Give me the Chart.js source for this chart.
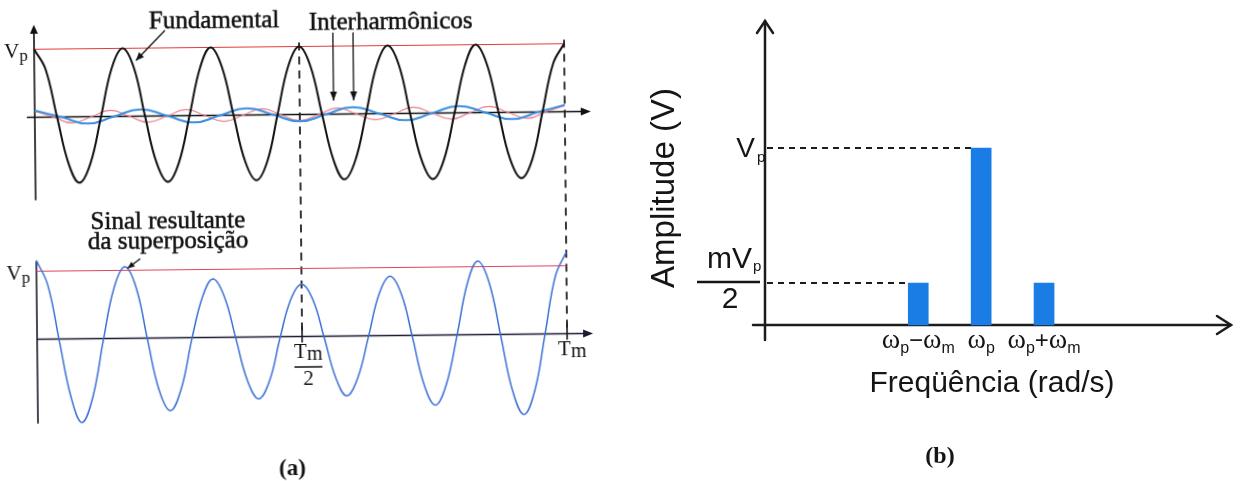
<!DOCTYPE html>
<html>
<head>
<meta charset="utf-8">
<script src="https://cdn.jsdelivr.net/npm/chart.js@4.4.1/dist/chart.umd.min.js"></script>
<style>
  html, body { margin: 0; padding: 0; background: #fff; }
  body { width: 1241px; height: 481px; position: relative; overflow: hidden; }
  #waves { position: absolute; left: 0; top: 0; transform-origin: 300px 230px; transform: rotate(-0.6deg); }
  #spectrum { position: absolute; left: 620px; top: 0; }
</style>
</head>
<body>
<canvas id="waves" width="610" height="481"></canvas>
<canvas id="spectrum" width="621" height="481"></canvas>
<script>
// (a) time as a fraction of Tm, amplitude in units of Vp
const waveT = [0, 0.021, 0.042, 0.063, 0.083, 0.104, 0.125, 0.146,
               0.167, 0.188, 0.208, 0.229, 0.25, 0.271, 0.292, 0.313,
               0.333, 0.354, 0.375, 0.396, 0.417, 0.438, 0.458, 0.479,
               0.5, 0.521, 0.542, 0.563, 0.583, 0.604, 0.625, 0.646,
               0.667, 0.688, 0.708, 0.729, 0.75, 0.771, 0.792, 0.813,
               0.833, 0.854, 0.875, 0.896, 0.917, 0.938, 0.958, 0.979, 1];

// fundamental
const fundV = [1, 0.71, 0, -0.69, -0.97, -0.69, 0, 0.71,
               1, 0.71, 0, -0.69, -0.97, -0.69, 0, 0.71,
               1, 0.71, 0, -0.68, -0.96, -0.68, 0, 0.71,
               1, 0.71, 0, -0.68, -0.96, -0.68, 0, 0.71,
               1, 0.71, 0, -0.69, -0.97, -0.69, 0, 0.71,
               1, 0.71, 0, -0.69, -0.97, -0.69, 0, 0.71, 1];

// interharmonic below the fundamental (blue)
const lowT = [0, 0.05, 0.1, 0.15, 0.2, 0.25, 0.3, 0.35, 0.4, 0.45, 0.5,
              0.55, 0.6, 0.65, 0.7, 0.75, 0.8, 0.85, 0.9, 0.95, 1];
const lowV = [0.1, 0, -0.1, 0, 0.1, 0, -0.1, 0, 0.1, 0, -0.1,
              0, 0.1, 0, -0.1, 0, 0.1, 0, -0.1, 0, 0.1];

// interharmonic above the fundamental (red)
const highT = [0, 0.036, 0.071, 0.107, 0.143, 0.179, 0.214, 0.25, 0.286, 0.321, 0.357, 0.393, 0.429, 0.464, 0.5,
               0.536, 0.571, 0.607, 0.643, 0.679, 0.714, 0.75, 0.786, 0.821, 0.857, 0.893, 0.929, 0.964, 1];
const highV = [0.09, 0, -0.09, 0, 0.09, 0, -0.09, 0, 0.09, 0, -0.09, 0, 0.09, 0, -0.09,
               0, 0.09, 0, -0.09, 0, 0.09, 0, -0.09, 0, 0.09, 0, -0.09, 0, 0.09];

// resulting signal
const sumV = [1.16, 0.8, -0.03, -0.86, -1.23, -0.86, -0.02, 0.74,
              1.05, 0.74, -0.01, -0.76, -1.07, -0.75, -0.02, 0.6,
              0.86, 0.6, -0.02, -0.64, -0.91, -0.64, -0.03, 0.54,
              0.77, 0.54, -0.03, -0.62, -0.88, -0.62, -0.02, 0.61,
              0.87, 0.61, -0.02, -0.72, -1.03, -0.73, -0.02, 0.76,
              1.08, 0.76, -0.03, -0.83, -1.18, -0.83, -0.02, 0.85, 1.2];

// Vp reference level
const vpT = [0, 1];
const vpV = [1, 1];

// (b) spectrum
const freqLabels = ['ω_p−ω_m', 'ω_p', 'ω_p+ω_m'];
const freqPos = [-1, 0, 1];
const amps = [0.237, 1, 0.237];

const SERIF = "'Liberation Serif', 'Times New Roman', serif";
const SANS = "'Liberation Sans', Arial, sans-serif";

const pts = (ts, vs) => ts.map((t, i) => ({ x: t, y: vs[i] }));

function arrowHead(ctx, x, y, angle, len, half, filled) {
  ctx.save();
  ctx.translate(x, y);
  ctx.rotate(angle);
  ctx.beginPath();
  if (filled) {
    ctx.moveTo(0, 0);
    ctx.lineTo(-len, -half);
    ctx.lineTo(-len, half);
    ctx.closePath();
    ctx.fill();
  } else {
    ctx.moveTo(-len, -half);
    ctx.lineTo(0, 0);
    ctx.lineTo(-len, half);
    ctx.stroke();
  }
  ctx.restore();
}

function arrow(ctx, x1, y1, x2, y2, len, half) {
  ctx.beginPath();
  ctx.moveTo(x1, y1);
  ctx.lineTo(x2, y2);
  ctx.stroke();
  arrowHead(ctx, x2, y2, Math.atan2(y2 - y1, x2 - x1), len, half, true);
}

// runs: [text, font, dy]
function drawRuns(ctx, runs, x, y, align) {
  let w = 0;
  runs.forEach(r => { ctx.font = r[1]; w += ctx.measureText(r[0]).width; });
  let cx = align === 'center' ? x - w / 2 : align === 'right' ? x - w : x;
  ctx.textAlign = 'left';
  runs.forEach(r => {
    ctx.font = r[1];
    ctx.fillText(r[0], cx, y + (r[2] || 0));
    cx += ctx.measureText(r[0]).width;
  });
}

// serif captions look heavier in print, so they get a hairline outline
function inkText(ctx, text, x, y) {
  ctx.fillText(text, x, y);
  ctx.lineWidth = 0.5;
  ctx.strokeText(text, x, y);
}

function vLine(ctx, x, y1, y2) {
  ctx.beginPath();
  ctx.moveTo(x, y1);
  ctx.lineTo(x, y2);
  ctx.stroke();
}

const wavesDecor = {
  id: 'wavesDecor',
  beforeDatasetsDraw(chart) {
    const { ctx } = chart;
    const { x, yTop, yBot } = chart.scales;
    const x0 = x.getPixelForValue(0);
    const xEnd = x.getPixelForValue(1.049);
    ctx.save();
    ctx.strokeStyle = '#111';
    ctx.fillStyle = '#111';
    ctx.lineWidth = 1.6;

    // upper plot axes
    vLine(ctx, x0, yTop.getPixelForValue(-1.22), yTop.getPixelForValue(1.3));
    arrowHead(ctx, x0, yTop.getPixelForValue(1.36), -Math.PI / 2, 9, 4, true);
    const yt0 = yTop.getPixelForValue(0);
    ctx.beginPath();
    ctx.moveTo(x.getPixelForValue(-0.015), yt0);
    ctx.lineTo(xEnd - 4, yt0);
    ctx.stroke();
    arrowHead(ctx, xEnd, yt0, 0, 10, 4, true);

    // lower plot axes
    ctx.strokeStyle = '#1a1a30';
    ctx.fillStyle = '#1a1a30';
    vLine(ctx, x0, yBot.getPixelForValue(1.15), yBot.getPixelForValue(-1.24));
    const yb0 = yBot.getPixelForValue(0);
    ctx.beginPath();
    ctx.moveTo(x0, yb0);
    ctx.lineTo(xEnd - 4, yb0);
    ctx.stroke();
    arrowHead(ctx, xEnd, yb0, 0, 10, 4, true);
    [0.5, 1].forEach(t => vLine(ctx, x.getPixelForValue(t), yb0 - 10, yb0 + 6));

    // dashed markers at Tm/2 and Tm
    ctx.strokeStyle = '#222';
    ctx.lineWidth = 1.8;
    ctx.setLineDash([8, 6]);
    [0.5, 1].forEach(t => vLine(ctx, x.getPixelForValue(t), yTop.getPixelForValue(1.06), yb0));
    ctx.restore();
  },
  afterDraw(chart) {
    const { ctx } = chart;
    const { x, yTop, yBot } = chart.scales;
    ctx.save();
    ctx.fillStyle = '#111';
    ctx.strokeStyle = '#111';
    ctx.textBaseline = 'alphabetic';

    // Vp labels
    [yTop, yBot].forEach(s => {
      drawRuns(ctx, [['V', '21px ' + SERIF, 0], ['p', '17px ' + SERIF, 3]], 6, s.getPixelForValue(1) + 8, 'left');
    });

    // titles of the traces
    ctx.font = '25px ' + SERIF;
    ctx.textAlign = 'left';
    inkText(ctx, 'Fundamental', 151, 27);
    inkText(ctx, 'Interharmônicos', 311, 30);
    ctx.textAlign = 'center';
    inkText(ctx, 'Sinal resultante', 168, 227);
    inkText(ctx, 'da superposição', 168, 247);

    ctx.lineWidth = 1.3;
    arrow(ctx, 167, 29, x.getPixelForValue(0.192), yTop.getPixelForValue(0.82), 8, 3.5);
    arrow(ctx, x.getPixelForValue(0.564), 33, x.getPixelForValue(0.564), yTop.getPixelForValue(0.2), 9, 3.5);
    arrow(ctx, x.getPixelForValue(0.602), 33, x.getPixelForValue(0.602), yTop.getPixelForValue(0.2), 9, 3.5);
    arrow(ctx, 140, 257, x.getPixelForValue(0.172), yBot.getPixelForValue(1.03), 7, 3);

    // time labels
    const xh = x.getPixelForValue(0.5) + 6;
    drawRuns(ctx, [['T', '21px ' + SERIF, 0], ['m', '20px ' + SERIF, 2]], xh, 358, 'center');
    ctx.lineWidth = 1.5;
    ctx.beginPath();
    ctx.moveTo(xh - 14, 367);
    ctx.lineTo(xh + 14, 367);
    ctx.stroke();
    ctx.font = '21px ' + SERIF;
    ctx.textAlign = 'center';
    ctx.fillText('2', xh, 385);
    drawRuns(ctx, [['T', '21px ' + SERIF, 0], ['m', '20px ' + SERIF, 2]], x.getPixelForValue(1) + 5, 358, 'center');

    ctx.font = 'bold 23px ' + SERIF;
    ctx.textAlign = 'center';
    ctx.fillText('(a)', 290, 475);
    ctx.restore();
  }
};

new Chart(document.getElementById('waves'), {
  type: 'line',
  data: {
    datasets: [
      { data: pts(waveT, fundV), yAxisID: 'yTop', borderColor: '#111', borderWidth: 2 },
      { data: pts(lowT, lowV), yAxisID: 'yTop', borderColor: '#3d8fe0', borderWidth: 2, tension: 0.5 },
      { data: pts(highT, highV), yAxisID: 'yTop', borderColor: '#ec7f8f', borderWidth: 1.2, tension: 0.5 },
      { data: pts(vpT, vpV), yAxisID: 'yTop', borderColor: '#e23a3a', borderWidth: 1, tension: 0 },
      { data: pts(waveT, sumV), yAxisID: 'yBot', borderColor: '#3a6fd6', borderWidth: 1.5 },
      { data: pts(vpT, vpV), yAxisID: 'yBot', borderColor: '#e5405e', borderWidth: 1, tension: 0 }
    ]
  },
  options: {
    responsive: false,
    animation: false,
    layout: { padding: 0 },
    elements: { point: { radius: 0 }, line: { tension: 0.4 } },
    plugins: { legend: { display: false }, tooltip: { enabled: false } },
    scales: {
      x: { type: 'linear', min: -0.0679, max: 1.083, display: false },
      yTop: { type: 'linear', min: -5.39, max: 1.684, display: false },
      yBot: { type: 'linear', min: -2.125, max: 4.949, display: false }
    }
  },
  plugins: [wavesDecor]
});

const specDecor = {
  id: 'specDecor',
  beforeDatasetsDraw(chart) {
    const { ctx } = chart;
    const fx = chart.scales.x, fy = chart.scales.y;
    const axisX = 145;
    const y0 = fy.getPixelForValue(0);
    ctx.save();
    ctx.strokeStyle = '#1c1c1c';
    ctx.lineWidth = 2.5;
    ctx.lineCap = 'round';
    vLine(ctx, axisX, 340, 21);
    arrowHead(ctx, axisX, 21, -Math.PI / 2, 12, 8, false);
    ctx.beginPath();
    ctx.moveTo(133, y0);
    ctx.lineTo(611, y0);
    ctx.stroke();
    arrowHead(ctx, 611, y0, 0, 14, 9, false);

    // dashed guides from the axis to the first bar of each level
    ctx.lineCap = 'butt';
    ctx.lineWidth = 2;
    ctx.setLineDash([6, 5]);
    const seen = [];
    amps.forEach((a, i) => {
      if (seen.includes(a)) return;
      seen.push(a);
      const yy = fy.getPixelForValue(a);
      ctx.beginPath();
      ctx.moveTo(axisX + 2, yy);
      ctx.lineTo(fx.getPixelForValue(freqPos[i]) - 10, yy);
      ctx.stroke();
    });
    ctx.restore();
  },
  afterDraw(chart) {
    const { ctx } = chart;
    const fx = chart.scales.x, fy = chart.scales.y;
    ctx.save();
    ctx.fillStyle = '#151515';
    ctx.strokeStyle = '#151515';
    ctx.textBaseline = 'alphabetic';

    // level labels
    const yVp = fy.getPixelForValue(1);
    drawRuns(ctx, [['V', '28px ' + SANS, 0]], 135, yVp + 9, 'right');
    drawRuns(ctx, [['p', '15px ' + SANS, 0]], 137, yVp + 14, 'left');
    const yM = fy.getPixelForValue(amps[0]);
    drawRuns(ctx, [['mV', '30px ' + SANS, 0]], 132, yM - 15, 'right');
    drawRuns(ctx, [['p', '15px ' + SANS, 0]], 133, yM - 12, 'left');
    ctx.lineWidth = 2.5;
    ctx.beginPath();
    ctx.moveTo(77, yM - 1);
    ctx.lineTo(140, yM - 1);
    ctx.stroke();
    ctx.font = '30px ' + SANS;
    ctx.textAlign = 'center';
    ctx.fillText('2', 110, yM + 25);

    // frequency tick labels
    const y0 = fy.getPixelForValue(0);
    freqLabels.forEach((lab, i) => {
      const runs = [];
      for (let k = 0; k < lab.length; k++) {
        const ch = lab[k];
        if (ch === '_') { runs.push([lab[++k], '16px ' + SANS, 5]); }
        else if (ch === 'ω') { runs.push([ch, '28px ' + SERIF, 0]); }
        else { runs.push([ch, '24px ' + SANS, 0]); }
      }
      drawRuns(ctx, runs, fx.getPixelForValue(freqPos[i]), y0 + 23, 'center');
    });

    // axis titles
    ctx.font = '30px ' + SANS;
    ctx.textAlign = 'center';
    ctx.fillText('Freqüência (rad/s)', 372, 392);
    ctx.save();
    ctx.translate(45, 188);
    ctx.rotate(-Math.PI / 2);
    ctx.textBaseline = 'middle';
    ctx.font = '33px ' + SANS;
    ctx.fillText('Amplitude (V)', 0, 0);
    ctx.restore();

    ctx.font = 'bold 24px ' + SERIF;
    ctx.textAlign = 'center';
    ctx.fillText('(b)', 320, 463);
    ctx.restore();
  }
};

new Chart(document.getElementById('spectrum'), {
  type: 'bar',
  data: {
    datasets: [{
      data: freqPos.map((f, i) => ({ x: f, y: amps[i] })),
      backgroundColor: '#1a7de6',
      borderWidth: 0,
      barThickness: 20
    }]
  },
  options: {
    responsive: false,
    animation: false,
    layout: { padding: 0 },
    plugins: { legend: { display: false }, tooltip: { enabled: false } },
    scales: {
      x: { type: 'linear', min: -5.194, max: 3.583, display: false },
      y: { type: 'linear', min: -0.881, max: 1.836, display: false }
    }
  },
  plugins: [specDecor]
});
</script>
</body>
</html>
